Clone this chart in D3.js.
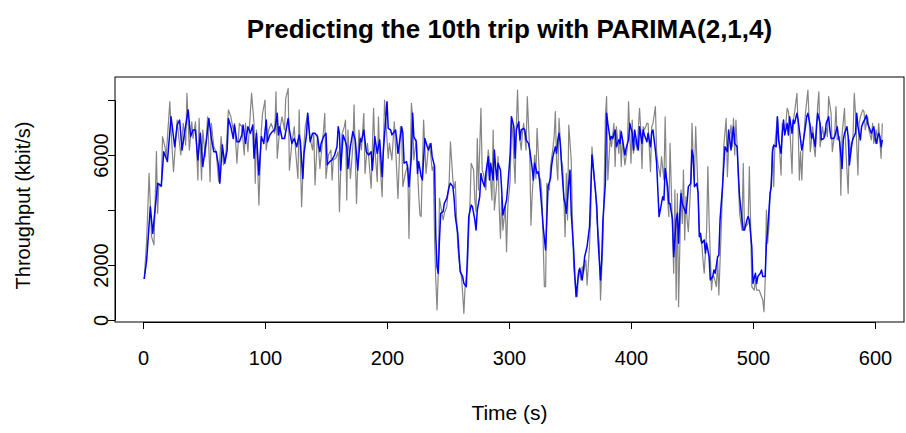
<!DOCTYPE html>
<html>
<head>
<meta charset="utf-8">
<script src="https://cdn.jsdelivr.net/npm/d3@7"></script>
<style>
  body { margin: 0; background: #ffffff; }
  text { font-family: "Liberation Sans", Arial, Helvetica, sans-serif; fill: #000; }
</style>
</head>
<body>
<svg id="chart" width="906" height="433"></svg>
<script>
// Titles and axis text
const chartTitle = "Predicting the 10th trip with PARIMA(2,1,4)";
const xTitle = "Time (s)";
const yTitle = "Throughput (kbit/s)";
const xTicks = [0, 100, 200, 300, 400, 500, 600];
const yTicks = [0, 2000, 4000, 6000, 8000];
const yTickLabels = ["0", "2000", "", "6000", ""];

// Measured throughput of the 10th trip: [second, kbit/s]
const observed = [
[1,1490],[3,2910],[5,5330],[7,3030],[9,2730],[11,6120],[12,3880],[13,4970],[15,4850],[16,6670],
[18,6300],[19,5940],[22,7940],[23,6910],[25,5390],[28,7270],[29,6790],[31,6000],[33,7150],[35,6360],
[36,8240],[38,6180],[40,7210],[41,6600],[43,7210],[45,5090],[46,7330],[48,5090],[49,6910],[51,5940],
[53,7390],[55,5030],[56,7150],[58,6300],[60,6120],[62,5030],[64,6670],[66,5640],[68,6060],[70,7640],
[72,7390],[74,6910],[75,7150],[77,5700],[79,7150],[81,7030],[83,6000],[84,7150],[86,6120],[87,6850],
[89,8240],[91,7150],[92,4970],[93,6910],[95,4180],[97,6910],[98,7515],[100,8000],[101,6180],[103,6910],
[105,7150],[108,6790],[109,8300],[110,5880],[112,6910],[114,7390],[116,6910],[117,8060],[119,8420],[120,5450],
[122,6420],[124,7030],[125,6180],[127,5150],[128,7640],[130,4120],[132,6420],[133,7030],[135,7515],[137,6600],
[139,6180],[140,6790],[141,4910],[143,6730],[144,6180],[145,5510],[148,6910],[149,7515],[150,5150],[152,6000],
[154,6180],[155,5090],[156,5820],[158,5880],[160,6120],[161,3940],[163,6730],[165,7030],[166,7270],[167,4360],
[168,6910],[170,5150],[172,6300],[173,7820],[175,4240],[177,6910],[179,6180],[181,7515],[182,5330],[184,6420],
[185,5940],[187,4790],[189,7700],[190,6300],[192,5030],[193,7390],[194,5940],[196,4485],[198,8000],[201,5880],
[202,6420],[204,5820],[206,7210],[207,6300],[209,4420],[211,7030],[212,6910],[213,4850],[215,5330],[217,5640],
[218,2970],[220,7880],[221,7390],[222,5820],[224,6550],[226,4540],[227,3820],[228,3760],[230,7270],[232,5330],
[234,6300],[235,6420],[237,5450],[238,5580],[239,2910],[240,1455],[241,365],[242,1700],[243,4420],[245,3880],
[246,3640],[247,3880],[249,4120],[251,5090],[252,6480],[254,5090],[255,4790],[256,5030],[257,3760],[258,2670],
[259,2180],[261,1580],[262,970],[263,240],[264,1210],[266,1940],[267,3270],[268,4240],[269,5700],[271,5450],
[272,4360],[273,3940],[274,6600],[275,4730],[277,7700],[278,5450],[279,5330],[281,4730],[283,6180],[284,5760],
[286,4360],[287,6910],[288,4000],[290,4970],[291,5940],[292,4060],[293,2970],[294,4485],[295,3270],[297,4120],
[298,2480],[299,4120],[301,5090],[302,7390],[303,6790],[305,4970],[306,7030],[307,8360],[308,6910],[310,6180],
[311,6790],[312,7150],[314,6180],[315,8120],[317,6120],[318,3450],[319,4540],[321,6000],[322,5150],[323,6970],
[325,5210],[326,5090],[327,4485],[329,1210],[330,1210],[331,4970],[333,4730],[334,5580],[336,6240],[337,6670],
[338,7580],[339,5700],[340,5090],[341,7330],[343,5820],[344,5580],[345,4360],[346,3030],[347,5330],[348,3640],
[349,7090],[351,5820],[352,3640],[353,1940],[355,970],[356,850],[357,1820],[359,1455],[360,1940],[361,1700],
[363,2180],[364,1270],[366,2670],[367,3880],[368,6300],[370,5090],[371,4730],[372,3640],[374,2790],[375,730],
[377,2910],[378,4850],[379,7390],[380,8120],[381,5090],[383,6670],[384,6300],[386,7150],[387,5580],[388,7030],
[390,6060],[391,6910],[392,5580],[393,6550],[395,5640],[396,5940],[397,6300],[398,7940],[400,5700],[401,7270],
[402,6060],[404,6550],[405,6180],[407,7700],[408,6910],[409,5510],[410,7030],[411,6910],[413,7150],[414,7150],
[416,5390],[417,7030],[418,7150],[420,7760],[421,6120],[422,5700],[424,5210],[425,5940],[427,5090],[428,7390],
[429,5090],[431,3760],[432,6420],[433,4850],[435,1700],[436,4730],[437,730],[438,4600],[439,485],[441,4730],
[442,3510],[443,5450],[444,2910],[445,4485],[446,3640],[447,3210],[449,4970],[450,7150],[451,5820],[452,5090],
[453,7030],[455,4600],[456,3270],[457,2910],[458,2790],[459,2180],[460,1700],[461,2430],[462,3270],[463,5580],
[464,3640],[466,1090],[467,1580],[468,1580],[470,1210],[471,2180],[472,910],[474,3390],[475,4730],[476,6300],
[478,7330],[479,5210],[480,6300],[482,7090],[483,6300],[484,7330],[485,6000],[486,7270],[487,6300],[488,5090],
[489,3880],[491,3270],[492,5700],[493,3270],[494,3390],[496,3510],[497,5580],[498,3640],[499,1210],[501,1090],
[502,1455],[503,1090],[505,1090],[506,970],[508,730],[509,300],[510,1455],[511,4000],[512,2790],[513,3390],
[514,4540],[515,5090],[516,6300],[517,4850],[518,6420],[520,7390],[521,6730],[523,5270],[524,7150],[525,6910],
[527,7150],[528,7700],[529,7580],[530,7150],[532,5330],[533,7270],[534,7515],[536,8240],[537,7030],[538,5090],
[539,6120],[540,5090],[541,6300],[543,7515],[545,8360],[546,7270],[547,6120],[549,7030],[550,6300],[551,5940],
[553,7760],[554,8300],[555,6300],[557,7030],[558,6670],[560,6970],[561,6670],[562,8120],[564,7515],[565,6120],
[567,6790],[568,7760],[569,6550],[571,6670],[572,4540],[573,6730],[575,7700],[576,6300],[578,4600],[579,6550],
[580,6060],[582,6670],[583,8240],[584,7515],[586,5270],[587,7150],[588,7390],[590,7640],[591,7580],[592,6910],
[594,7390],[595,6910],[597,6550],[598,7150],[599,6420],[601,6910],[602,6420],[603,7150],[605,5880],[606,7150]
];

// PARIMA(2,1,4) one-step predictions: [second, kbit/s]
const predicted = [
[1,1490],[3,2180],[6,4120],[8,3150],[12,4970],[15,4870],[17,6120],[20,5760],[23,7390],[26,6300],
[28,7090],[30,7270],[32,6180],[34,6790],[37,7640],[39,6670],[41,6910],[43,6910],[45,5820],[47,6790],
[49,5580],[52,6550],[54,7330],[56,6600],[58,6120],[60,6120],[62,5580],[63,4970],[65,6360],[67,5700],
[69,6180],[70,7330],[72,7030],[74,6600],[75,7090],[77,6480],[79,6480],[81,6730],[82,7090],[84,6420],
[86,7030],[88,6790],[90,7090],[91,5880],[93,6790],[95,5270],[97,6670],[99,6420],[101,7270],[102,6480],
[104,6730],[106,6850],[108,6910],[110,7515],[111,6730],[112,7030],[114,6600],[116,6600],[119,7330],[120,6910],
[122,6420],[124,6600],[126,6300],[128,6730],[129,6480],[131,5150],[132,6060],[134,6730],[135,7515],[137,6480],
[139,6790],[141,6790],[143,6670],[144,6360],[145,6120],[146,6420],[148,6670],[150,6790],[151,5640],[153,5760],
[155,5820],[157,6000],[159,6300],[160,7030],[161,6790],[162,5450],[164,6730],[166,6480],[167,6300],[168,5510],
[170,6300],[172,6850],[174,6550],[176,5450],[178,6600],[179,6480],[181,6910],[183,6120],[185,6000],[187,6120],
[188,5450],[190,6670],[192,6060],[194,6550],[196,5210],[197,6120],[200,7940],[201,6970],[203,6910],[204,6730],
[205,6790],[207,6910],[208,6550],[209,6060],[212,7030],[213,6790],[214,5700],[216,5760],[217,5510],[218,4850],
[220,5940],[221,7515],[222,6670],[224,6480],[225,5330],[226,5760],[228,5210],[229,5090],[231,6600],[233,6300],
[234,6180],[235,6300],[236,6420],[237,5940],[239,5580],[240,3030],[241,1940],[242,1700],[243,2910],[244,3880],
[246,3940],[247,4240],[249,4420],[251,4850],[252,4970],[254,4850],[255,4420],[256,3760],[258,3150],[259,2430],
[260,1760],[262,1580],[263,1330],[265,1210],[266,2430],[267,3760],[269,4180],[270,4120],[272,3640],[273,3270],
[274,4000],[276,4485],[277,5330],[278,5090],[280,4850],[281,5330],[283,5940],[284,5090],[285,5700],[287,5090],
[288,6180],[289,5580],[290,5090],[291,5700],[293,5450],[294,4730],[295,3820],[297,4180],[298,4360],[299,4850],
[301,6060],[302,7390],[304,7030],[305,5880],[306,6910],[308,7210],[309,6550],[310,6910],[312,6970],[313,6910],
[314,6550],[316,6420],[317,6180],[319,5510],[320,5090],[321,5700],[323,5330],[324,5390],[325,5090],[327,4000],
[328,3390],[330,2545],[331,3640],[332,4850],[334,5150],[335,5640],[336,5940],[338,6300],[339,6060],[340,6550],
[341,6790],[342,6420],[343,5700],[345,4420],[346,4240],[347,3880],[349,4970],[350,5450],[351,3880],[353,2545],
[354,1580],[355,850],[357,1700],[358,1880],[360,1455],[361,1820],[362,2300],[364,2667],[365,3030],[366,3390],
[368,6000],[369,5580],[370,5090],[372,4120],[373,2910],[375,1455],[376,2180],[377,3640],[379,4970],[380,7515],
[381,7150],[383,6550],[384,6670],[385,6600],[387,6910],[388,6300],[390,6550],[391,6420],[392,6850],[394,6300],
[395,6000],[396,6240],[398,6550],[399,7150],[401,6790],[402,6180],[403,6910],[405,6360],[406,6180],[407,7030],
[409,6420],[410,6910],[411,6730],[413,6480],[414,6790],[416,6300],[417,6850],[418,6910],[420,6180],[421,5700],
[422,4730],[423,3760],[425,4240],[426,4485],[427,4360],[428,5510],[430,4850],[431,4240],[432,4240],[434,3640],
[435,2300],[437,3640],[438,3880],[439,2790],[440,3880],[441,4600],[442,4240],[443,4120],[445,3880],[446,4300],
[447,4850],[449,4970],[450,6180],[451,5940],[452,4850],[454,4970],[455,4600],[456,3030],[457,3150],[458,2790],
[460,2910],[461,2430],[462,2790],[464,2300],[465,1455],[467,1580],[468,1820],[469,1700],[471,2300],[472,2360],
[473,3640],[475,4850],[476,5580],[477,6300],[479,6120],[480,6910],[482,6180],[483,6670],[484,7030],[485,6420],
[487,6300],[488,5330],[489,4485],[491,3640],[492,3270],[493,3270],[495,3640],[496,3760],[497,3640],[499,2667],
[500,1330],[502,1700],[503,1330],[504,1580],[506,1700],[507,1820],[508,1580],[510,1580],[511,2790],[512,3270],
[514,4600],[515,4850],[516,6120],[517,6360],[519,6300],[520,7390],[521,6550],[523,6060],[524,6790],[525,7270],
[526,6730],[528,7150],[529,6730],[530,7390],[532,6790],[533,7270],[534,7150],[536,7515],[537,7270],[538,6910],
[540,6180],[541,6420],[543,7030],[544,7390],[545,7515],[547,7030],[548,6600],[549,6790],[551,6300],[552,7030],
[553,7515],[555,7150],[556,6550],[558,6600],[559,6730],[560,7150],[562,7390],[563,6910],[564,6600],[566,6600],
[567,6670],[569,7030],[570,6670],[571,6480],[573,5510],[574,6550],[575,6790],[577,7030],[578,6670],[579,5640],
[581,6420],[582,6600],[584,6790],[585,7515],[586,7030],[588,6550],[589,7030],[590,7150],[592,7330],[593,7450],
[594,7150],[596,6910],[597,6790],[599,7030],[600,6670],[601,6420],[603,6790],[604,6670],[605,6300],[606,6550]
];

const svg = d3.select("#chart");
const box = { left: 115, right: 904, top: 77, bottom: 322 };

const x = d3.scaleLinear().domain([0, 600]).range([143, 875]);
const y = d3.scaleLinear().domain([0, 8000]).range([320, 100]);

const line = d3.line()
  .x(d => x(d[0]))
  .y(d => y(d[1]));

// Observed throughput (grey) with the prediction (blue) drawn over it
svg.append("path")
  .datum(observed)
  .attr("d", line)
  .attr("fill", "none")
  .attr("stroke", "#858585")
  .attr("stroke-width", 1.2)
  .attr("stroke-linejoin", "round");

svg.append("path")
  .datum(predicted)
  .attr("d", line)
  .attr("fill", "none")
  .attr("stroke", "#0000ff")
  .attr("stroke-width", 1.5)
  .attr("stroke-linejoin", "round");

// Plot frame
svg.append("rect")
  .attr("x", box.left).attr("y", box.top)
  .attr("width", box.right - box.left).attr("height", box.bottom - box.top)
  .attr("fill", "none").attr("stroke", "#000").attr("stroke-width", 1);

// Bottom axis
const xAxis = d3.axisBottom(x)
  .tickValues(xTicks)
  .tickSizeInner(7).tickSizeOuter(0)
  .tickPadding(31);
const gx = svg.append("g")
  .attr("transform", `translate(0,${box.bottom})`)
  .call(xAxis);
gx.selectAll("text").attr("font-size", 20).attr("dy", null)
  .attr("dominant-baseline", "middle");

// Left axis with rotated labels
const yAxis = d3.axisLeft(y)
  .tickValues(yTicks)
  .tickSizeInner(7).tickSizeOuter(0)
  .tickFormat((d, i) => yTickLabels[i]);
const gy = svg.append("g")
  .attr("transform", `translate(${box.left},0)`)
  .call(yAxis);
gy.selectAll(".tick text")
  .attr("x", null).attr("dy", null)
  .attr("font-size", 20)
  .attr("text-anchor", "middle")
  .attr("dominant-baseline", "middle")
  .attr("transform", "translate(-12,0) rotate(-90)");

svg.selectAll(".domain, .tick line").attr("stroke", "#000").attr("stroke-width", 1);
svg.selectAll(".tick text").attr("fill", "#000")
  .style("font-family", '"Liberation Sans", Arial, Helvetica, sans-serif');

// Titles
svg.append("text")
  .attr("x", (box.left + box.right) / 2).attr("y", 38)
  .attr("text-anchor", "middle")
  .attr("font-size", 26).attr("font-weight", "bold")
  .text(chartTitle);

svg.append("text")
  .attr("x", (box.left + box.right) / 2).attr("y", 420)
  .attr("text-anchor", "middle")
  .attr("font-size", 21)
  .text(xTitle);

svg.append("text")
  .attr("transform", `translate(30,${(box.top + box.bottom) / 2 + 6}) rotate(-90)`)
  .attr("text-anchor", "middle")
  .attr("font-size", 20)
  .text(yTitle);
</script>
</body>
</html>
